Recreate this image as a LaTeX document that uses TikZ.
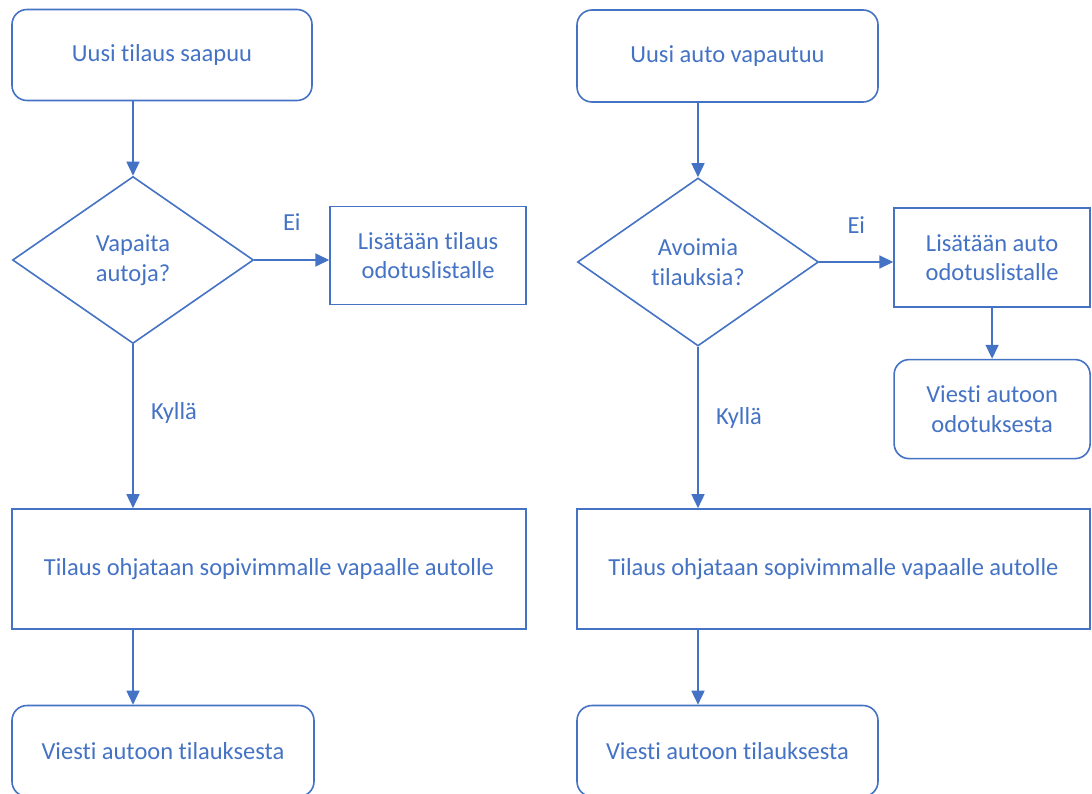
\documentclass[tikz,border=0pt]{standalone}
\usepackage{fontspec}
\setmainfont{Carlito}[Ligatures=NoCommon]
\usepackage{tikz}
\usetikzlibrary{arrows.meta,positioning,shapes.geometric}
\definecolor{Office}{HTML}{4472C4}

\begin{document}
\begin{tikzpicture}[
  x=1pt,y=-1pt,
  every node/.style={font=\fontsize{24.5}{29.5}\selectfont,text=Office},
  event/.style={draw=Office,line width=1.6pt,rounded corners=15pt,align=center,minimum width=300pt,minimum height=91pt},
  task/.style={draw=Office,line width=1.6pt,align=center,inner sep=0pt},
  choice/.style={draw=Office,line width=1.6pt,diamond,aspect=1.45,inner sep=0pt,align=center,minimum width=241pt,minimum height=167pt},
  arr/.style={-{Triangle[length=14pt,width=13pt]},line width=1.6pt,color=Office}
]
\useasboundingbox (0,0) rectangle (1092,794);
% vasen: uusi tilaus
\node[event] (start1) at (162,55) {Uusi tilaus saapuu};
\node[choice] (dec1) at (133,260) {Vapaita\\autoja?};
\node[task,minimum width=196pt,minimum height=98pt,right=75pt of dec1,yshift=4.5pt] (wait1) {Lisätään tilaus\\odotuslistalle};
\node[task,minimum width=514pt,minimum height=120pt] (big1) at (269,569) {Tilaus ohjataan sopivimmalle vapaalle autolle};
\node[event,minimum width=302pt] (end1) at (163,751) {Viesti autoon tilauksesta};
% oikea: uusi auto
\node[event,minimum width=301pt,minimum height=92pt] (start2) at (727.5,56) {Uusi auto vapautuu};
\node[choice,minimum height=168pt] (dec2) at (698,262) {Avoimia\\tilauksia?};
\node[task,minimum width=196pt,minimum height=99pt,right=74pt of dec2,yshift=4.5pt] (wait2) {Lisätään auto\\odotuslistalle};
\node[event,minimum width=196pt,minimum height=99pt,below=51pt of wait2] (msg2) {Viesti autoon\\odotuksesta};
\node[task,minimum width=513pt,minimum height=120pt] (big2) at (833.5,569) {Tilaus ohjataan sopivimmalle vapaalle autolle};
\node[event,minimum width=301pt] (end2) at (727.5,751) {Viesti autoon tilauksesta};
\draw[arr] (dec1.north |- start1.south) -- (dec1.north);
\draw[arr] (dec1.east) -- node[yshift=38pt] (ei1) {Ei} (wait1.west |- dec1.east);
\draw[arr] (dec1.south) -- node[pos=0.42,right=14pt] (kylla1) {Kyllä} (dec1.south |- big1.north);
\draw[arr] (dec1.south |- big1.south) -- (dec1.south |- end1.north);
\draw[arr] (dec2.north |- start2.south) -- (dec2.north);
\draw[arr] (dec2.east) -- node[yshift=37pt] (ei2) {Ei} (wait2.west |- dec2.east);
\draw[arr] (wait2.south) -- (msg2.north);
\draw[arr] (dec2.south) -- node[pos=0.44,right=14pt] (kylla2) {Kyllä} (dec2.south |- big2.north);
\draw[arr] (dec2.south |- big2.south) -- (dec2.south |- end2.north);
\end{tikzpicture}
\end{document}
